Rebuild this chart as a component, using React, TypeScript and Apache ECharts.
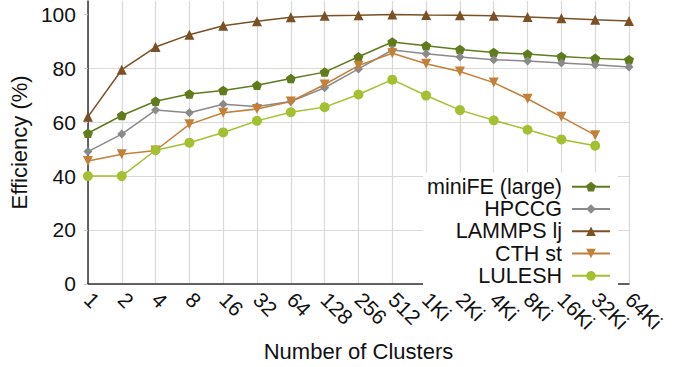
import React, { useEffect, useRef } from "react";
import * as echarts from "echarts";

const categories = ["1", "2", "4", "8", "16", "32", "64", "128", "256", "512", "1Ki", "2Ki", "4Ki", "8Ki", "16Ki", "32Ki", "64Ki"];
const yTicks = [0, 20, 40, 60, 80, 100];

const miniFE = [55.9, 62.5, 67.8, 70.5, 71.8, 73.7, 76.2, 78.6, 84.3, 89.8, 88.4, 87.0, 85.9, 85.3, 84.4, 83.7, 83.2];
const hpccg = [49.1, 55.6, 64.5, 63.5, 66.7, 65.8, 67.7, 72.8, 79.8, 86.8, 85.4, 84.2, 83.2, 82.7, 82.0, 81.3, 80.5];
const lammps = [62.0, 79.5, 87.9, 92.5, 95.8, 97.5, 99.0, 99.5, 99.7, 100.0, 99.8, 99.7, 99.5, 99.1, 98.6, 98.0, 97.6];
const cth = [45.6, 48.1, 49.5, 59.2, 63.5, 64.9, 67.7, 74.0, 81.0, 85.6, 81.7, 78.8, 74.7, 68.7, 62.0, 55.2, null];
const lulesh = [40.0, 40.0, 49.6, 52.4, 56.2, 60.5, 63.7, 65.6, 70.3, 75.8, 69.9, 64.5, 60.7, 57.2, 53.6, 51.3, null];

const FONT = "Liberation Sans, Arial, Helvetica, sans-serif";
const pentagon = "path://M0,-1 L0.951,-0.309 L0.588,0.809 L-0.588,0.809 L-0.951,-0.309 Z";

export default function App() {
  const ref = useRef<HTMLDivElement>(null);
  useEffect(() => {
    if (!ref.current) return;
    const chart = echarts.init(ref.current, null, { renderer: "svg" });
    const mk = (name: string, data: any[], color: string, symbol: string, size: number, rotate = 0) => ({
      name,
      type: "line",
      data,
      symbol,
      symbolSize: size,
      symbolRotate: rotate,
      symbolKeepAspect: true,
      showAllSymbol: true,
      connectNulls: false,
      itemStyle: { color },
      lineStyle: { color, width: 1.5 },
    });
    chart.setOption({
      animation: false,
      textStyle: { fontFamily: FONT },
      grid: { left: 86, right: 59, top: 1, bottom: 77.5, containLabel: false },
      legend: {
        orient: "vertical",
        right: 70,
        top: 172.5,
        align: "right",
        backgroundColor: "#ffffff",
        padding: [3, 7, 0, 4],
        itemWidth: 38,
        itemHeight: 12,
        itemGap: 0,
        textStyle: { fontSize: 21.5, lineHeight: 22.3, color: "#111", fontFamily: FONT, padding: [0, 5, 0, 0] },
        data: ["miniFE (large)", "HPCCG", "LAMMPS lj", "CTH st", "LULESH"],
      },
      xAxis: {
        type: "category",
        data: categories,
        boundaryGap: false,
        name: "Number of Clusters",
        nameLocation: "middle",
        nameGap: 47,
        nameTextStyle: { fontSize: 22, color: "#111", fontFamily: FONT },
        axisLine: { lineStyle: { color: "#333", width: 1.5 } },
        axisTick: { show: false },
        axisLabel: { rotate: -45, fontSize: 21, color: "#111", margin: 12, interval: 0, fontFamily: FONT },
        splitLine: { show: true, lineStyle: { color: "#d9d9d9", width: 1.2 } },
      },
      yAxis: {
        type: "value",
        min: 0,
        max: 105,
        interval: 20,
        name: "Efficiency (%)",
        nameLocation: "middle",
        nameGap: 51,
        nameTextStyle: { fontSize: 22, color: "#111", fontFamily: FONT },
        axisLine: { show: true, lineStyle: { color: "#333", width: 1.5 } },
        axisTick: { show: true, length: 4, lineStyle: { color: "#cccccc" }, customValues: yTicks },
        axisLabel: { fontSize: 21, color: "#111", margin: 12, customValues: yTicks, fontFamily: FONT },
        splitLine: { show: true, showMaxLine: false, lineStyle: { color: "#d9d9d9", width: 1.2 } },
      },
      series: [
        mk("miniFE (large)", miniFE, "#5f7b1c", pentagon, 10),
        mk("HPCCG", hpccg, "#8a8a8a", "diamond", 9),
        mk("LAMMPS lj", lammps, "#7a5024", "triangle", 10),
        mk("CTH st", cth, "#c47f38", "triangle", 10, 180),
        mk("LULESH", lulesh, "#a3c030", "circle", 10),
      ],
    });
    return () => chart.dispose();
  }, []);
  return <div ref={ref} style={{ width: 688, height: 367, position: "absolute", left: 0, top: 0 }} />;
}
